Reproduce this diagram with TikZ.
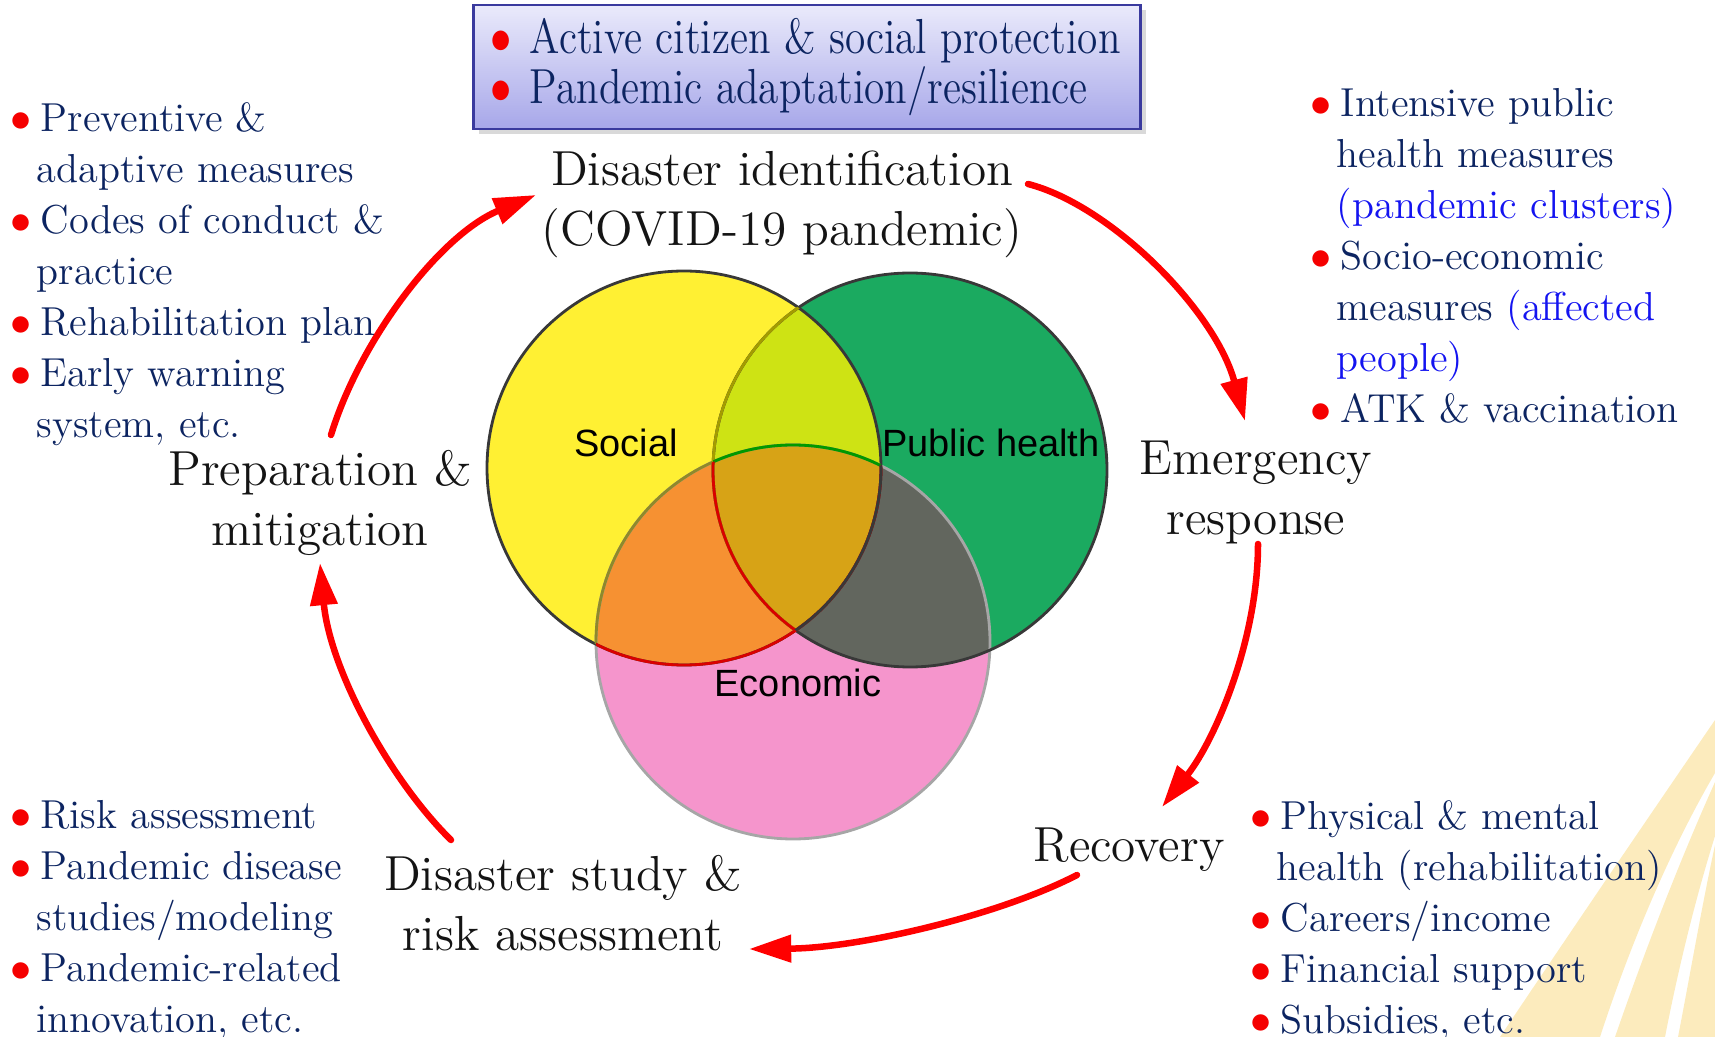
\documentclass[tikz,border=0pt]{standalone}
\usepackage{fontspec}
\usepackage{tikz}
\usetikzlibrary{arrows.meta}
\newfontfamily\vennfont{Liberation Sans}
\definecolor{navytext}{HTML}{0C2461}
\definecolor{bulred}{HTML}{F50000}
\definecolor{noteblue}{HTML}{1414F0}
\definecolor{cycred}{HTML}{FF0000}
\definecolor{socyellow}{HTML}{FFF033}
\definecolor{healthgreen}{HTML}{1BAA60}
\definecolor{econpink}{HTML}{F595CC}
\definecolor{sochealth}{HTML}{CEE314}
\definecolor{socecon}{HTML}{F69132}
\definecolor{healthecon}{HTML}{62665E}
\definecolor{allthree}{HTML}{D7A316}
\definecolor{ribbon}{HTML}{FCEBBD}
\definecolor{boxtop}{HTML}{EAEAFB}
\definecolor{boxbot}{HTML}{A7A7E9}
\definecolor{boxline}{HTML}{3A3A9E}

\newcommand{\bul}{\makebox[7.4pt][l]{\hspace{-1.1pt}\textcolor{bulred}{$\bullet$}}}
\newcommand{\boxbul}{\makebox[12.4pt][l]{\hspace{-1pt}\textcolor{bulred}{$\bullet$}}}
\newcommand{\cont}{\hspace*{6.3pt}}
\newcommand{\squeeze}[1]{\scalebox{0.84}[1]{#1}}

\tikzset{
  listtext/.style={anchor=north west, inner sep=0pt, align=left, text=navytext,
    font=\fontsize{11.5}{14.5}\selectfont},
  stagetext/.style={anchor=north, inner sep=0pt, align=center, text=black!92,
    font=\fontsize{14}{17}\selectfont},
  vennlabel/.style={inner sep=0pt, font=\vennfont\fontsize{10.8}{13}\selectfont},
  vennline/.style={line width=0.8pt},
  cyclearrow/.style={cycred, line width=1.85pt, line cap=round,
    -{Triangle[length=12pt,width=7.5pt]}},
  goalbox/.style={draw=boxline, line width=0.8pt, top color=boxtop, bottom color=boxbot,
    minimum width=6.67cm, minimum height=1.24cm, align=left, text=navytext,
    font=\fontsize{14}{14.2}\selectfont}
}

\begin{document}
\begin{tikzpicture}[x=0.01cm, y=-0.01cm]
\useasboundingbox (0,0) rectangle (1715,1037);

% ribbons in the corner
\fill[ribbon] (1500,1037) .. controls (1575,925) and (1650,815) .. (1715,720)
  -- (1715,773) .. controls (1670,850) and (1630,945) .. (1600,1037) -- cycle;
\fill[ribbon] (1615,1037) .. controls (1645,950) and (1680,860) .. (1715,782)
  -- (1715,836) .. controls (1695,900) and (1678,970) .. (1665,1037) -- cycle;
\fill[ribbon] (1678,1037) .. controls (1690,975) and (1702,905) .. (1715,845)
  -- (1715,1037) -- cycle;

% venn diagram
\coordinate (socc) at (684,468);
\coordinate (healthc) at (910,470);
\coordinate (econc) at (793,642);
\fill[socyellow] (socc) circle[radius=197];
\fill[healthgreen] (healthc) circle[radius=197];
\fill[econpink] (econc) circle[radius=197];
\begin{scope}
  \clip (socc) circle[radius=197];
  \fill[sochealth] (healthc) circle[radius=197];
  \fill[socecon] (econc) circle[radius=197];
\end{scope}
\begin{scope}
  \clip (healthc) circle[radius=197];
  \fill[healthecon] (econc) circle[radius=197];
  \clip (socc) circle[radius=197];
  \fill[allthree] (econc) circle[radius=197];
\end{scope}
% outlines
\draw[vennline, black!35] (econc) circle[radius=197];
\draw[vennline, black!78] (healthc) circle[radius=197];
\draw[vennline, black!78] (socc) circle[radius=197];
\begin{scope}
  \clip (socc) circle[radius=197];
  \draw[vennline, olive!70!gray] (econc) circle[radius=197];
  \draw[vennline, olive!80!yellow] (healthc) circle[radius=197];
  \clip (healthc) circle[radius=197];
  \draw[vennline, green!60!black] (econc) circle[radius=197];
\end{scope}
\begin{scope}
  \clip (socc) circle[radius=197];
  \clip (econc) circle[radius=197];
  \draw[vennline, red!85!black] (healthc) circle[radius=197];
\end{scope}
\begin{scope}
  \clip (econc) circle[radius=197];
  \draw[vennline, red!85!black] (socc) circle[radius=197];
  \clip (healthc) circle[radius=197];
  \draw[vennline, black!78] (socc) circle[radius=197];
\end{scope}
\node[vennlabel] (social) at (626,443) {Social};
\node[vennlabel] (health) at (991,443) {Public health};
\node[vennlabel] (econ) at (798,683) {Economic};

% top box
\fill[black!25, opacity=0.6] (479,10) rectangle (1146,134);
\node[goalbox] (goals) at (807,67) {\squeeze{\boxbul Active citizen \& social protection}\\
  \squeeze{\boxbul Pandemic adaptation/resilience}};

% stages of the cycle
\node[stagetext] (ident) at (782,150) {Disaster identification\\(COVID-19 pandemic)};
\node[stagetext] (emerg) at (1256,440) {Emergency\\response};
\node[stagetext] (recov) at (1129,827) {Recovery};
\node[stagetext] (study) at (563,855) {Disaster study \&\\risk assessment};
\node[stagetext] (prep) at (320,450) {Preparation \&\\mitigation};

% bullet lists
\node[listtext] (preplist) at (14,102) {%
\bul Preventive \&\\
\cont adaptive measures\\
\bul Codes of conduct \&\\
\cont practice\\
\bul Rehabilitation plan\\
\bul Early warning\\
\cont system, etc.};
\node[listtext] (emerglist) at (1314,88) {%
\bul Intensive public\\
\cont health measures\\
\cont\textcolor{noteblue}{(pandemic clusters)}\\
\bul Socio-economic\\
\cont measures \textcolor{noteblue}{(affected}\\
\cont\textcolor{noteblue}{people)}\\
\bul ATK \& vaccination};
\node[listtext] (studylist) at (14,800) {%
\bul Risk assessment\\
\bul Pandemic disease\\
\cont studies/modeling\\
\bul Pandemic-related\\
\cont innovation, etc.};
\node[listtext] (recovlist) at (1254,800) {%
\bul Physical \& mental\\
\cont health (rehabilitation)\\
\bul Careers/income\\
\bul Financial support\\
\bul Subsidies, etc.};

% arrows of the cycle
\coordinate (a1s) at (331,435);  \coordinate (a1e) at (536,195);
\coordinate (a2s) at (1028,184); \coordinate (a2e) at (1245,421);
\coordinate (a3s) at (1258,544); \coordinate (a3e) at (1162,807);
\coordinate (a4s) at (1077,875); \coordinate (a4e) at (749,949);
\coordinate (a5s) at (451,840);  \coordinate (a5e) at (320,563);
\draw[cyclearrow] (a1s) .. controls (360,340) and (440,235) .. (a1e);
\draw[cyclearrow] (a2s) .. controls (1110,205) and (1215,310) .. (a2e);
\draw[cyclearrow] (a3s) .. controls (1258,640) and (1215,740) .. (a3e);
\draw[cyclearrow] (a4s) .. controls (1000,915) and (860,948) .. (a4e);
\draw[cyclearrow] (a5s) .. controls (390,780) and (330,670) .. (a5e);
\end{tikzpicture}
\end{document}
